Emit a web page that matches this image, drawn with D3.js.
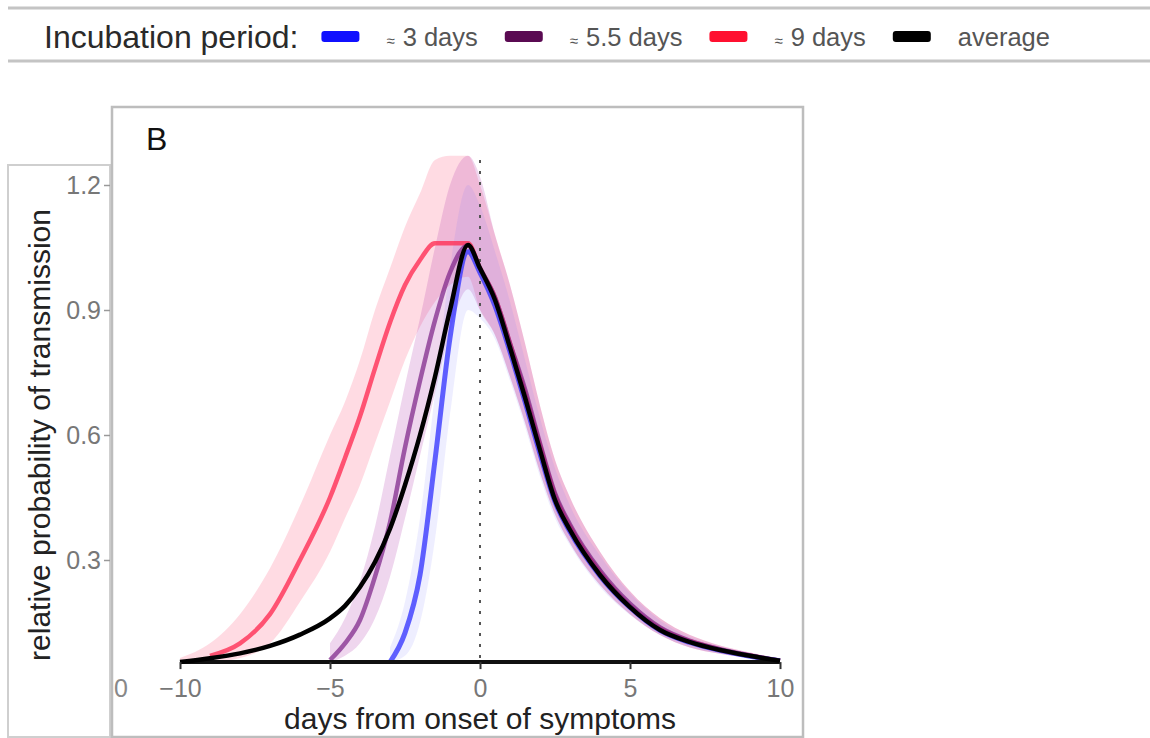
<!DOCTYPE html>
<html>
<head>
<meta charset="utf-8">
<script src="https://cdn.jsdelivr.net/npm/d3@7"></script>
<style>
  body { margin: 0; background: #fff; }
  svg { display: block; font-family: "Liberation Sans", Arial, sans-serif; }
</style>
</head>
<body>
<div class="chart"></div>
<script>
// ---- data ----
const days = [-10, -9, -8, -7, -6, -5, -4.5, -4, -3.5, -3, -2.5, -2, -1.5, -1, -0.4, 0, 0.5, 1, 1.5, 2, 2.5, 3, 4, 5, 6, 7, 8, 9, 10];

const averageMean = [0.055, 0.064, 0.076, 0.094, 0.121, 0.16, 0.19, 0.235, 0.295, 0.375, 0.48, 0.6, 0.74, 0.9, 1.056, 1.0, 0.924, 0.81, 0.69, 0.564, 0.444, 0.372, 0.264, 0.187, 0.132, 0.103, 0.084, 0.07, 0.058];

const nineMean = [null, 0.07, 0.1, 0.17, 0.3, 0.45, 0.545, 0.645, 0.76, 0.87, 0.96, 1.02, 1.06, 1.06, 1.06, 1.0, 0.93, 0.82, 0.7, 0.575, 0.455, 0.38, 0.27, 0.19, 0.135, 0.105, 0.085, 0.07, 0.058];
const nineLow = [0.055, 0.055, 0.065, 0.1, 0.2, 0.32, 0.4, 0.48, 0.58, 0.68, 0.78, 0.86, 0.92, 0.96, 0.98, 0.9, 0.84, 0.74, 0.63, 0.51, 0.41, 0.34, 0.24, 0.17, 0.12, 0.09, 0.075, 0.065, 0.055];
const nineHigh = [0.065, 0.1, 0.17, 0.28, 0.43, 0.6, 0.68, 0.78, 0.9, 1.0, 1.1, 1.18, 1.26, 1.27, 1.27, 1.2, 1.08, 0.96, 0.82, 0.67, 0.54, 0.45, 0.32, 0.225, 0.16, 0.12, 0.095, 0.078, 0.062];

const fiveMean = [null, null, null, null, null, 0.06, 0.1, 0.156, 0.26, 0.39, 0.57, 0.73, 0.875, 0.99, 1.055, 1.0, 0.93, 0.82, 0.71, 0.58, 0.46, 0.385, 0.275, 0.195, 0.138, 0.106, 0.086, 0.071, 0.058];
const fiveLow = [null, null, null, null, null, 0.055, 0.07, 0.1, 0.16, 0.26, 0.4, 0.55, 0.7, 0.85, 0.95, 0.9, 0.84, 0.74, 0.63, 0.51, 0.41, 0.34, 0.24, 0.17, 0.12, 0.09, 0.075, 0.065, 0.055];
const fiveHigh = [null, null, null, null, null, 0.1, 0.16, 0.25, 0.38, 0.55, 0.72, 0.88, 1.05, 1.2, 1.27, 1.22, 1.08, 0.96, 0.82, 0.67, 0.54, 0.45, 0.32, 0.225, 0.16, 0.12, 0.095, 0.078, 0.062];

const threeMean = [null, null, null, null, null, null, null, null, null, 0.055, 0.125, 0.264, 0.54, 0.833, 1.04, 0.99, 0.91, 0.8, 0.68, 0.555, 0.44, 0.368, 0.262, 0.186, 0.131, 0.102, 0.083, 0.069, 0.058];
const threeLow = [null, null, null, null, null, null, null, null, null, 0.055, 0.07, 0.15, 0.35, 0.65, 0.9, 0.88, 0.83, 0.73, 0.62, 0.5, 0.4, 0.335, 0.235, 0.168, 0.12, 0.09, 0.075, 0.064, 0.055];
const threeHigh = [null, null, null, null, null, null, null, null, null, 0.09, 0.2, 0.4, 0.7, 1.0, 1.2, 1.15, 1.04, 0.92, 0.78, 0.64, 0.52, 0.43, 0.31, 0.22, 0.155, 0.115, 0.092, 0.076, 0.06];

const floorLevel = 0.055;
const xTicks = [-10, -5, 0, 5, 10];
const yTicks = [0.3, 0.6, 0.9, 1.2];
const legendLabels = ['3 days', '5.5 days', '9 days', 'average'];
const legendApprox = [true, true, true, false];

// ---- drawing ----
const width = 1150;
const height = 738;

const svg = d3.select('.chart')
  .append('svg')
  .attr('width', width)
  .attr('height', height);

const x = d3.scaleLinear().domain([-10, 10]).range([180, 780]);
const y = d3.scaleLinear().domain([0, 1.2]).range([685, 185]);

// legend strip
svg.append('line').attr('x1', 8).attr('x2', width).attr('y1', 8).attr('y2', 8)
  .attr('stroke', '#c4c4c4').attr('stroke-width', 3);
svg.append('line').attr('x1', 8).attr('x2', width).attr('y1', 61).attr('y2', 61)
  .attr('stroke', '#c4c4c4').attr('stroke-width', 3);

const legendTitle = svg.append('text')
  .attr('x', 44).attr('y', 48)
  .attr('font-size', 32).attr('fill', '#2a2a2a')
  .text('Incubation period:');

const keyColors = ['#1010ff', '#5a0a52', '#ff1030', '#000'];
let lx = 44 + legendTitle.node().getComputedTextLength() + 23;
legendLabels.forEach((lab, k) => {
  svg.append('rect')
    .attr('x', lx).attr('y', 31).attr('width', 38).attr('height', 11).attr('rx', 3)
    .attr('fill', keyColors[k]);
  const t = svg.append('text')
    .attr('x', lx + 65).attr('y', 46)
    .attr('font-size', 25.5).attr('fill', '#555');
  if (legendApprox[k]) {
    t.append('tspan').attr('font-size', 15).text('\u2248');
    t.append('tspan').attr('dx', 8).text(lab);
  } else {
    t.append('tspan').text(lab);
  }
  lx = lx + 65 + t.node().getComputedTextLength() + 8 + 27;
});

// panel frames
svg.append('rect').attr('x', 8).attr('y', 165).attr('width', 102).attr('height', 572)
  .attr('fill', 'none').attr('stroke', '#cfcfcf').attr('stroke-width', 2);
svg.append('rect').attr('x', 112).attr('y', 107).attr('width', 691).attr('height', 630)
  .attr('fill', '#fff').attr('stroke', '#bdbdbd').attr('stroke-width', 2.5);

svg.append('text').attr('x', 146).attr('y', 150)
  .attr('font-size', 32).attr('fill', '#111').text('B');

// bands
const rows = days.map((d, k) => ({
  d,
  avg: averageMean[k],
  nine: nineMean[k], nineLo: nineLow[k], nineHi: nineHigh[k],
  five: fiveMean[k], fiveLo: fiveLow[k], fiveHi: fiveHigh[k],
  three: threeMean[k], threeLo: threeLow[k], threeHi: threeHigh[k]
}));

const band = (lo, hi) => d3.area()
  .defined((r) => r[lo] != null)
  .x((r) => x(r.d))
  .y0((r) => y(r[lo]))
  .y1((r) => y(r[hi]))
  .curve(d3.curveMonotoneX);

const line = (key) => d3.line()
  .defined((r) => r[key] != null)
  .x((r) => x(r.d))
  .y((r) => y(r[key]))
  .curve(d3.curveMonotoneX);

svg.append('path').attr('d', band('nineLo', 'nineHi')(rows))
  .attr('fill', '#ff6a8a').attr('fill-opacity', 0.24);
svg.append('path').attr('d', band('fiveLo', 'fiveHi')(rows))
  .attr('fill', '#b030a8').attr('fill-opacity', 0.2);
svg.append('path').attr('d', band('threeLo', 'threeHi')(rows))
  .attr('fill', '#7070ff').attr('fill-opacity', 0.12);

// zero line
svg.append('line')
  .attr('x1', x(0)).attr('x2', x(0))
  .attr('y1', 160).attr('y2', y(floorLevel))
  .attr('stroke', '#555').attr('stroke-width', 2)
  .attr('stroke-dasharray', '3,8');

// mean lines
svg.append('path').attr('d', line('nine')(rows))
  .attr('fill', 'none').attr('stroke', '#ff2f55').attr('stroke-opacity', 0.8).attr('stroke-width', 4.5);
svg.append('path').attr('d', line('five')(rows))
  .attr('fill', 'none').attr('stroke', '#7a1f86').attr('stroke-opacity', 0.7).attr('stroke-width', 4.5);
svg.append('path').attr('d', line('three')(rows))
  .attr('fill', 'none').attr('stroke', '#3a3aff').attr('stroke-opacity', 0.8).attr('stroke-width', 5);

// baseline + average
svg.append('line')
  .attr('x1', x(-10)).attr('x2', x(10))
  .attr('y1', y(floorLevel)).attr('y2', y(floorLevel))
  .attr('stroke', '#111').attr('stroke-width', 4);
svg.append('path').attr('d', line('avg')(rows))
  .attr('fill', 'none').attr('stroke', '#000').attr('stroke-width', 4.5);

// axes
const xAxis = svg.append('g')
  .attr('transform', `translate(0,${y(floorLevel)})`)
  .call(d3.axisBottom(x).tickValues(xTicks).tickSize(7).tickPadding(10)
    .tickFormat((d) => d3.format('d')(d).replace('-', '\u2212')));
xAxis.select('.domain').remove();
xAxis.selectAll('line').attr('stroke', '#333').attr('stroke-width', 2);
xAxis.selectAll('text').attr('font-size', 25).attr('fill', '#777')
  .attr('font-family', '"Liberation Sans", Arial, sans-serif');

const yAxis = svg.append('g')
  .attr('transform', 'translate(110,0)')
  .call(d3.axisLeft(y).tickValues(yTicks).tickSize(6).tickPadding(3)
    .tickFormat(d3.format('.1f')));
yAxis.select('.domain').remove();
yAxis.selectAll('line').attr('stroke', '#999').attr('stroke-width', 1.5);
yAxis.selectAll('text').attr('font-size', 25).attr('fill', '#777')
  .attr('font-family', '"Liberation Sans", Arial, sans-serif');

svg.append('text').attr('x', 121).attr('y', 697)
  .attr('text-anchor', 'middle').attr('font-size', 25).attr('fill', '#888').text('0');

// titles
svg.append('text')
  .attr('x', x(0)).attr('y', 729)
  .attr('text-anchor', 'middle').attr('font-size', 30).attr('fill', '#222')
  .text('days from onset of symptoms');

svg.append('text')
  .attr('transform', 'translate(50,435) rotate(-90)')
  .attr('text-anchor', 'middle').attr('font-size', 30).attr('fill', '#222')
  .text('relative probability of transmission');
</script>
</body>
</html>
